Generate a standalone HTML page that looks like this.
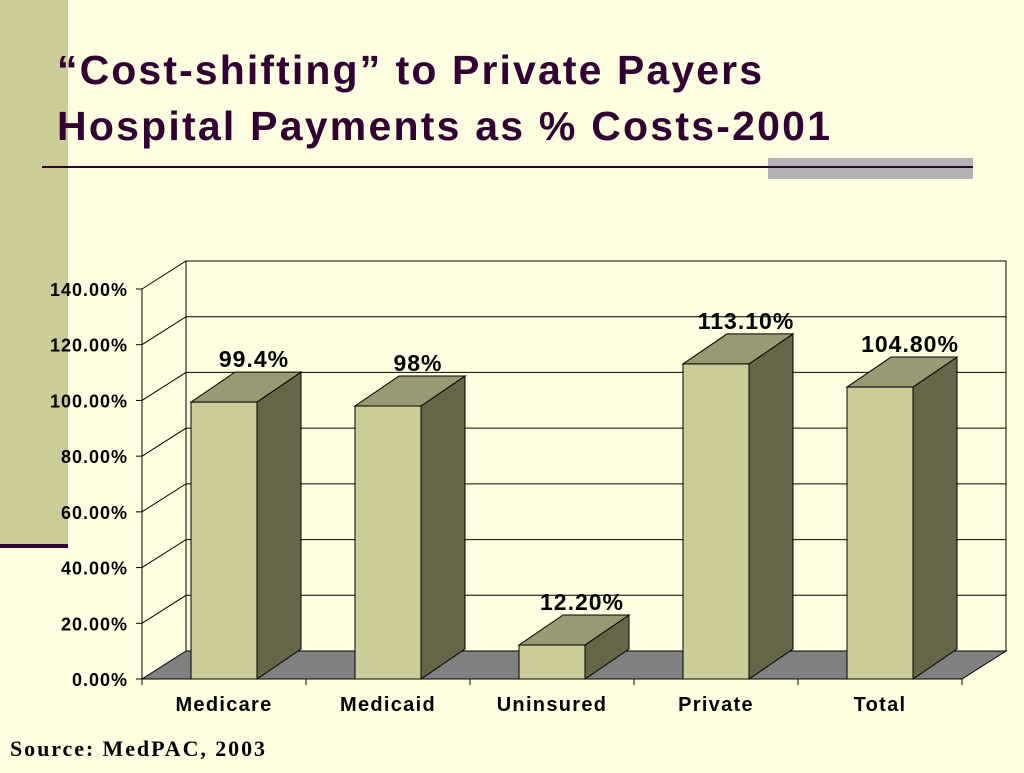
<!DOCTYPE html>
<html><head><meta charset="utf-8"><style>
body{margin:0;width:1024px;height:768px;background:#FFFFE1;overflow:hidden;font-family:"Liberation Sans",sans-serif}
</style></head><body>
<svg width="1024" height="768">
<rect x="0" y="0" width="68" height="545" fill="#CCCC99"/>
<rect x="0" y="544" width="68" height="4" fill="#330033"/>
<text x="57" y="84" font-size="41" font-weight="bold" fill="#330033" textLength="705">“Cost-shifting” to Private Payers</text>
<text x="57" y="140" font-size="41" font-weight="bold" fill="#330033" textLength="773">Hospital Payments as % Costs-2001</text>
<rect x="768" y="158" width="205" height="21" fill="#B2B2B2"/>
<line x1="42" y1="167" x2="973" y2="167" stroke="#330033" stroke-width="2"/>
<g id="chart"></g>
<text x="10" y="756" font-family="Liberation Serif,serif" font-size="22" font-weight="bold" fill="#000" textLength="255">Source: MedPAC, 2003</text>
</svg>
<script>
const categories=["Medicare","Medicaid","Uninsured","Private","Total"];
const values=[99.4,98,12.2,113.1,104.8];
const valueLabels=["99.4%","98%","12.20%","113.10%","104.80%"];
const ticks=[0,20,40,60,80,100,120,140];
const tickLabels=["0.00%","20.00%","40.00%","60.00%","80.00%","100.00%","120.00%","140.00%"];
const NS="http://www.w3.org/2000/svg";
const g=document.getElementById("chart");
const x0=142,x1=962,y0=679,pxPer=(679-289)/140,dx=44,dy=28;
const Y=v=>y0-v*pxPer;
const bw=(x1-x0)/categories.length;
function el(t,a,txt){const e=document.createElementNS(NS,t);for(const k in a)e.setAttribute(k,a[k]);if(txt!=null)e.textContent=txt;g.appendChild(e);return e;}
let w=el("rect",{x:x0+dx,y:Y(140)-dy,width:x1-x0,height:140*pxPer,fill:"#FFFFE1",stroke:"#000","stroke-width":1});


let f=el("polygon",{points:`${x0},${y0} ${x1},${y0} ${x1+dx},${y0-dy} ${x0+dx},${y0-dy}`,fill:"#808080",stroke:"#000","stroke-width":1});


let sw=el("line",{x1:x0,y1:Y(140),x2:x0,y2:y0,stroke:"#000"});


ticks.forEach((t,i)=>{
 const y=Y(t);
 if(t>0){let gl=el("polyline",{points:`${x0},${y} ${x0+dx},${y-dy} ${x1+dx},${y-dy}`,fill:"none",stroke:"#000","stroke-width":1});
 
 }
 let tk=el("line",{x1:x0-6,y1:y,x2:x0,y2:y,stroke:"#000"});
 
 
 let tl=el("text",{x:x0-14,y:y+7,"text-anchor":"end","font-size":18,"font-weight":"bold","letter-spacing":1},tickLabels[i]);
 
 
});
let xa=el("line",{x1:x0,y1:y0,x2:x1,y2:y0,stroke:"#000"});


for(let i=0;i<=categories.length;i++){let t=el("line",{x1:x0+i*bw,y1:y0,x2:x0+i*bw,y2:y0+6,stroke:"#000"});

}
categories.forEach((c,i)=>{
 const cx=x0+bw*(i+0.5),bl=cx-33,br=cx+33,top=Y(values[i]),ddx=44,ddy=30;
 const side=el("polygon",{points:`${br},${y0} ${br},${top} ${br+ddx},${top-ddy} ${br+ddx},${y0-ddy}`,fill:"#666649",stroke:"#000"});
 
 
 const tp=el("polygon",{points:`${bl},${top} ${br},${top} ${br+ddx},${top-ddy} ${bl+ddx},${top-ddy}`,fill:"#999973",stroke:"#000"});
 
 
 const fr=el("rect",{x:bl,y:top,width:br-bl,height:y0-top,fill:"#CCCC99",stroke:"#000"});
 
 
 const lb=el("text",{x:cx+30,y:top-35,"text-anchor":"middle","font-size":23,"font-weight":"bold","letter-spacing":1},valueLabels[i]);
 
 
 const xl=el("text",{x:cx,y:711,"text-anchor":"middle","font-size":20,"font-weight":"bold","letter-spacing":1.3},c);
 
 
});
</script>
</body></html>
